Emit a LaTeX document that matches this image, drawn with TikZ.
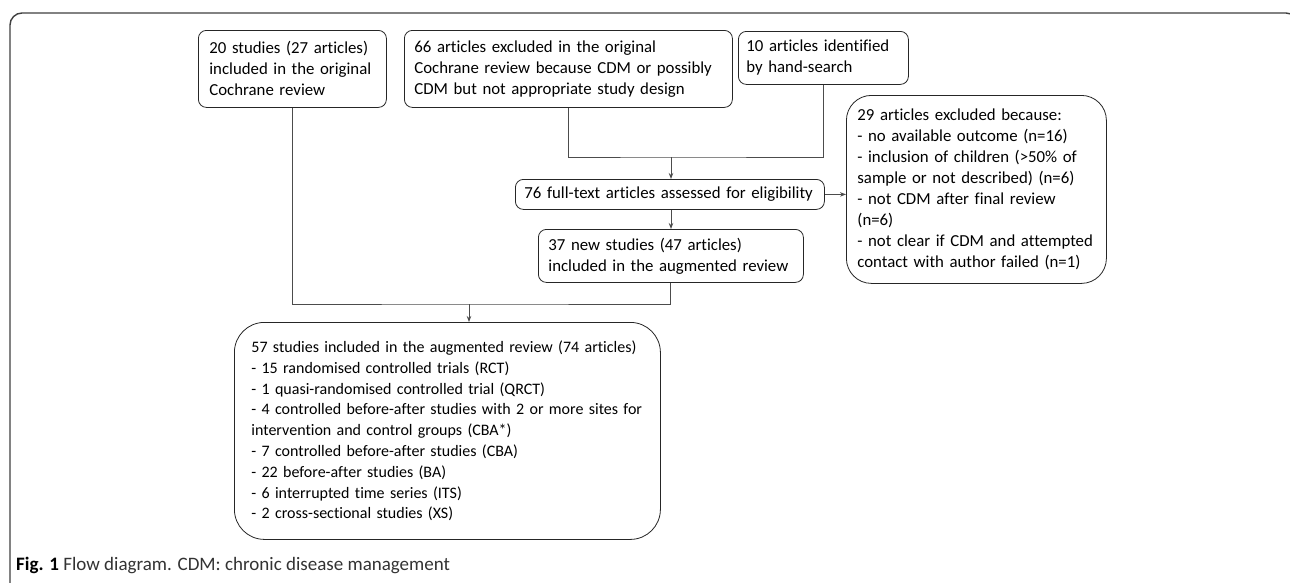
\documentclass[tikz,border=0pt]{standalone}
\usepackage{fontspec}
\setmainfont{Carlito}[Ligatures={NoCommon,NoRequired,NoContextual}]
\usetikzlibrary{arrows.meta}
\begin{document}
\begin{tikzpicture}[x=1pt,y=-1pt,
  every node/.style={font=\fontsize{16.8}{21}\selectfont},
  box/.style={draw=black!85, line width=0.8pt, rounded corners=8pt, anchor=north west, align=left, inner ysep=0pt},
  bigbox/.style={box, rounded corners=28pt},
  conn/.style={draw=black!70, line width=0.9pt},
  arr/.style={conn, -{Stealth[length=6pt,width=4.5pt]}}]
\useasboundingbox (0,0) rectangle (1290,582);
\fill[white] (0,0) rectangle (1290,582);
\draw[black!75, line width=1.4pt, rounded corners=12pt] (10,600) -- (10,13) -- (1298,13) -- (1298,600);

\node[box, minimum width=188pt, minimum height=77pt, text width=166pt, inner xsep=11pt] (A) at (198,30)
  {20 studies (27 articles)\\included in the original\\Cochrane review};
\node[box, minimum width=328pt, minimum height=77pt, text width=308pt, inner xsep=10pt] (B) at (404,30)
  {66 articles excluded in the original\\\mbox{Cochrane review because CDM or possibly}\\CDM but not appropriate study design};
\node[box, minimum width=170pt, minimum height=53pt, text width=154pt, inner xsep=8pt] (C) at (738,31)
  {10 articles identified\\by hand-search};
\node[bigbox, rounded corners=25pt, minimum width=260pt, minimum height=188pt, text width=238pt, inner xsep=11pt] (D) at (846,95)
  {29 articles excluded because:\\- no available outcome (n=16)\\\mbox{- inclusion of children (>50\% of}\\\mbox{sample or not described) (n=6)}\\- not CDM after final review\\(n=6)\\\mbox{- not clear if CDM and attempted}\\\mbox{contact with author failed (n=1)}};
\node[box, minimum width=309pt, minimum height=30pt, text width=291pt, inner xsep=9pt] (E) at (515,179)
  {\mbox{76 full-text articles assessed for eligibility}};
\node[box, minimum width=265pt, minimum height=53pt, text width=245pt, inner xsep=10pt] (F) at (538,229)
  {37 new studies (47 articles)\\included in the augmented review};
\node[bigbox, rounded corners=30pt, minimum width=426pt, minimum height=217pt, text width=392pt, inner xsep=17pt,
  font=\fontsize{16}{20.8}\selectfont] (G) at (234,322)
  {\mbox{57 studies included in the augmented review (74 articles)}\\- 15 randomised controlled trials (RCT)\\- 1 quasi-randomised controlled trial (QRCT)\\\mbox{- 4 controlled before-after studies with 2 or more sites for}\\intervention and control groups (CBA*)\\- 7 controlled before-after studies (CBA)\\- 22 before-after studies (BA)\\- 6 interrupted time series (ITS)\\- 2 cross-sectional studies (XS)};

\coordinate (j2) at (671,157);
\coordinate (j1) at (469,304);
\draw[conn] (B.south) |- (j2) -| (C.south);
\draw[arr] (j2) -- (j2 |- E.north);
\draw[arr] (E.south -| j2) -- (j2 |- F.north);
\draw[arr] (E.east) -- (E.east -| D.west);
\draw[conn] (A.south) |- (j1) -| (F.south);
\draw[arr] (j1) -- (j1 |- G.north);

\node[anchor=base west, inner sep=0pt, font=\fontsize{19}{23}\selectfont] (cap) at (16,570)
  {\textbf{Fig. 1} \textcolor{black!80}{Flow diagram. CDM: chronic disease management}};
\end{tikzpicture}
\end{document}
